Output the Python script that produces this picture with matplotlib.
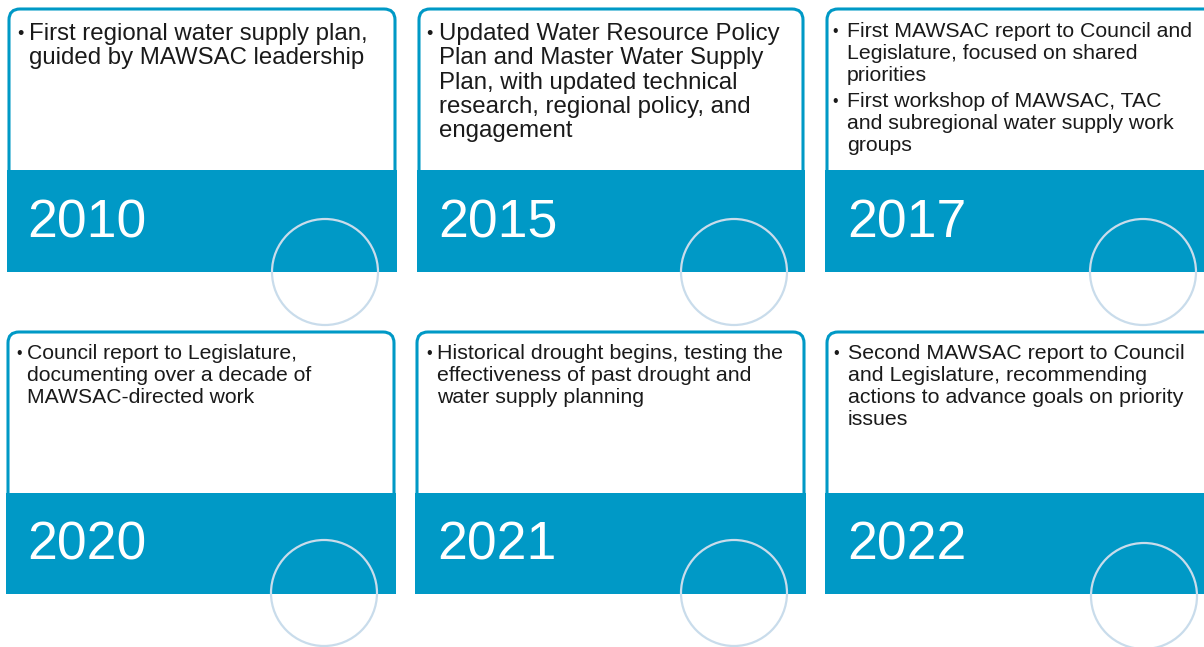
import matplotlib.pyplot as plt
from matplotlib.patches import FancyBboxPatch, Rectangle, Circle

years = ["2010", "2015", "2017", "2020", "2021", "2022"]
bullets = [
    [["First regional water supply plan,", "guided by MAWSAC leadership"]],
    [["Updated Water Resource Policy", "Plan and Master Water Supply",
      "Plan, with updated technical", "research, regional policy, and",
      "engagement"]],
    [["First MAWSAC report to Council and", "Legislature, focused on shared",
      "priorities"],
     ["First workshop of MAWSAC, TAC", "and subregional water supply work",
      "groups"]],
    [["Council report to Legislature,", "documenting over a decade of",
      "MAWSAC-directed work"]],
    [["Historical drought begins, testing the",
      "effectiveness of past drought and", "water supply planning"]],
    [["Second MAWSAC report to Council", "and Legislature, recommending",
      "actions to advance goals on priority", "issues"]],
]

# layout (pixel units, y down)
card_x = [(9, 395), (419, 803), (827, 1215), (8, 394), (417, 804), (827, 1215)]
card_top = [9, 9, 9, 332, 332, 332]
band_top = [170, 170, 170, 493, 493, 493]
band_bot = [272, 272, 272, 594, 594, 594]
circ = [(325, 272), (734, 272), (1143, 272), (324, 593), (734, 593), (1144, 596)]
txt_size = [17.3, 17.3, 15.3, 15.2, 15.4, 15.4]
line_gap = [24, 24.3, 22, 22, 22, 22]
first_base = [40, 40, 37, 359, 359, 359]
bullet_x = [17, 426, 832, 16, 426, 833]
text_x = [29, 439, 847, 27, 437, 848]
year_x = [27, 438, 847, 27, 437, 847]
year_base = [237, 237, 237, 560, 560, 560]

blue = "#0099c6"
ring = "#c9dceb"

plt.rcParams['font.family'] = ['Liberation Sans', 'DejaVu Sans']

fig = plt.figure(figsize=(12.04, 6.47), dpi=100)
ax = fig.add_axes([0, 0, 1, 1])
ax.set_xlim(0, 1204)
ax.set_ylim(647, 0)
ax.axis('off')

for i in range(6):
    x0, x1 = card_x[i]
    # white card with rounded outline
    box = FancyBboxPatch((x0, card_top[i]), x1 - x0, band_top[i] + 20 - card_top[i],
                         boxstyle="round,pad=0,rounding_size=11",
                         facecolor='white', edgecolor=blue, lw=2.2, zorder=1)
    ax.add_patch(box)
    ax.add_patch(Rectangle((x0 - 2, band_top[i]), x1 - x0 + 4, band_bot[i] - band_top[i],
                           facecolor=blue, edgecolor='none', zorder=2))
    ax.add_patch(Circle(circ[i], 53, facecolor='none', edgecolor=ring, lw=1.6, zorder=3))
    ax.text(year_x[i], year_base[i], years[i], color='white', fontsize=38.5,
            va='baseline', ha='left', zorder=4)

    y = first_base[i]
    for b, lines in enumerate(bullets[i]):
        if b > 0:
            y += 4
        ax.text(bullet_x[i], y - 1, "\u2022", fontsize=txt_size[i] * 0.75, color='#1a1a1a',
                va='baseline', ha='left', zorder=4)
        for ln in lines:
            ax.text(text_x[i], y, ln, fontsize=txt_size[i], color='#1a1a1a',
                    va='baseline', ha='left', zorder=4)
            y += line_gap[i]

fig.savefig("out.png", dpi=100)
